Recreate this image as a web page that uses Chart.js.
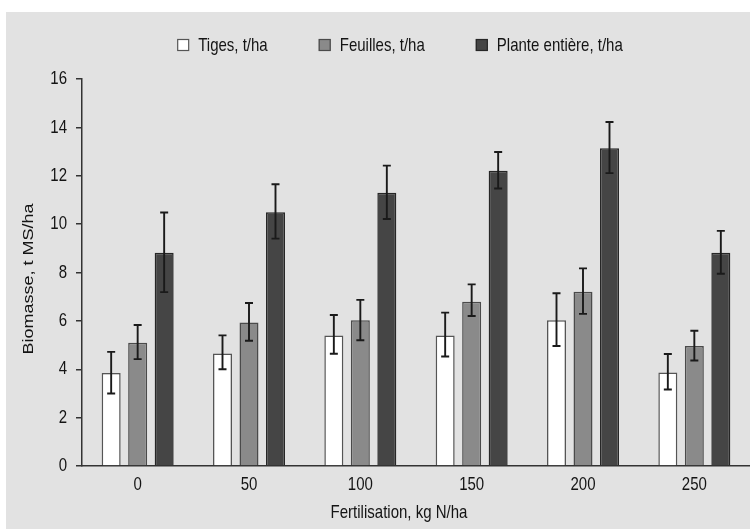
<!DOCTYPE html>
<html>
<head>
<meta charset="utf-8">
<script src="https://cdn.jsdelivr.net/npm/chart.js@4/dist/chart.umd.min.js"></script>
<style>
html,body{margin:0;padding:0;background:#fff;}
#wrap{position:relative;width:750px;height:529px;}
canvas{display:block;}
</style>
</head>
<body>
<div id="wrap"><canvas id="c" width="750" height="529"></canvas></div>
<script>
// ---- data ----
const categories = ['0', '50', '100', '150', '200', '250'];
const seriesNames = ['Tiges, t/ha', 'Feuilles, t/ha', 'Plante entière, t/ha'];
const tiges       = [3.85, 4.65, 5.40, 5.40, 6.03, 3.87];
const tigesLow    = [3.00, 4.00, 4.64, 4.53, 4.96, 3.16];
const tigesHigh   = [4.72, 5.40, 6.24, 6.34, 7.14, 4.63];
const feuilles     = [5.10, 5.93, 6.03, 6.79, 7.20, 4.96];
const feuillesLow  = [4.42, 5.18, 5.20, 6.20, 6.29, 4.36];
const feuillesHigh = [5.83, 6.74, 6.87, 7.51, 8.17, 5.59];
const plante     = [8.82, 10.49, 11.30, 12.21, 13.14, 8.82];
const planteLow  = [7.19, 9.40, 10.21, 11.47, 12.11, 7.95];
const planteHigh = [10.48, 11.65, 12.42, 12.98, 14.22, 9.72];
const yTicks = [0, 2, 4, 6, 8, 10, 12, 14, 16];
const xTitle = 'Fertilisation, kg N/ha';
const yTitle = 'Biomasse, t MS/ha';

const FONT = "'Liberation Sans', Arial, sans-serif";
const FS = 19;
const SX = 0.79; // horizontally narrowed text, as in the reference
const TEXT = '#141414';
const fills = ['#ffffff', '#8a8a8a', '#454545'];
const borders = ['#555555', '#4a4a4a', '#262626'];
const errors = [[tigesLow, tigesHigh], [feuillesLow, feuillesHigh], [planteLow, planteHigh]];

const canvas = document.getElementById('c');
const c2d = canvas.getContext('2d');
const origFillText = c2d.fillText;
c2d.fillText = function (t, x, y, mw) {
  this.save();
  this.translate(x, y);
  this.scale(SX, 1);
  if (mw === undefined) origFillText.call(this, t, 0, 0);
  else origFillText.call(this, t, 0, 0, mw / SX);
  this.restore();
};

const bgPlugin = {
  id: 'bg',
  beforeDraw(chart) {
    const ctx = chart.ctx;
    ctx.save();
    ctx.fillStyle = '#ffffff';
    ctx.fillRect(0, 0, chart.width, chart.height);
    ctx.fillStyle = '#e2e2e2';
    ctx.fillRect(6, 12, chart.width - 6, chart.height - 12);
    ctx.restore();
  }
};

const errPlugin = {
  id: 'errbars',
  afterDatasetsDraw(chart) {
    const ctx = chart.ctx;
    const ys = chart.scales.y;
    ctx.save();
    ctx.strokeStyle = '#1a1a1a';
    ctx.lineWidth = 1.9;
    chart.data.datasets.forEach((ds, i) => {
      const meta = chart.getDatasetMeta(i);
      const [lo, hi] = errors[i];
      meta.data.forEach((bar, j) => {
        const x = bar.x;
        const yl = ys.getPixelForValue(lo[j]);
        const yh = ys.getPixelForValue(hi[j]);
        ctx.beginPath();
        ctx.moveTo(x, yl); ctx.lineTo(x, yh);
        ctx.moveTo(x - 4, yl); ctx.lineTo(x + 4, yl);
        ctx.moveTo(x - 4, yh); ctx.lineTo(x + 4, yh);
        ctx.stroke();
      });
    });
    ctx.restore();
  }
};

const annoPlugin = {
  id: 'anno',
  afterDraw(chart) {
    const ctx = chart.ctx;
    ctx.save();
    // legend
    ctx.font = FS + 'px ' + FONT;
    ctx.fillStyle = TEXT;
    ctx.textBaseline = 'middle';
    ctx.textAlign = 'left';
    const box = 12, gapText = 9, gapItem = 51, cy = 45;
    const widths = seriesNames.map(s => box + gapText + ctx.measureText(s).width * SX);
    const total = widths.reduce((a, b) => a + b, 0) + gapItem * (widths.length - 1);
    let x = 400 - total / 2;
    seriesNames.forEach((s, i) => {
      ctx.fillStyle = fills[i];
      ctx.fillRect(x, cy - box / 2, box, box);
      ctx.strokeStyle = borders[i];
      ctx.lineWidth = 1.2;
      ctx.strokeRect(x + 0.5, cy - box / 2 + 0.5, box - 1, box - 1);
      ctx.fillStyle = TEXT;
      ctx.fillText(s, x + box + gapText, cy + 1);
      x += widths[i] + gapItem;
    });
    // axis titles
    ctx.textAlign = 'center';
    ctx.fillText(xTitle, 399, 513);
    ctx.font = '18px ' + FONT;
    ctx.translate(29, 279);
    ctx.scale(0.83, 1);
    ctx.rotate(-Math.PI / 2);
    origFillText.call(ctx, yTitle, 0, 0);
    ctx.restore();
  }
};

const datasets = [tiges, feuilles, plante].map((d, i) => ({
  label: seriesNames[i],
  data: d,
  backgroundColor: fills[i],
  borderColor: borders[i],
  borderWidth: 1.5,
  categoryPercentage: 0.714,
  barPercentage: 0.717
}));

new Chart(canvas, {
  type: 'bar',
  data: { labels: categories, datasets },
  plugins: [bgPlugin, errPlugin, annoPlugin],
  options: {
    responsive: false,
    animation: false,
    devicePixelRatio: 1,
    layout: { padding: { top: 79, left: 0, right: 0, bottom: 0 } },
    plugins: { legend: { display: false }, tooltip: { enabled: false } },
    scales: {
      x: {
        grid: { display: false, drawTicks: false },
        border: { display: true, color: '#333333', width: 1.5 },
        ticks: { color: TEXT, font: { family: FONT, size: FS }, padding: 7 },
        afterFit(s) { s.height = 63; }
      },
      y: {
        min: 0, max: 16,
        afterBuildTicks(s) { s.ticks = yTicks.map(v => ({ value: v })); },
        grid: { display: true, drawOnChartArea: false, drawTicks: true, tickLength: 6, color: '#333333', lineWidth: 1.5 },
        border: { display: true, color: '#333333', width: 1.5 },
        ticks: { color: TEXT, font: { family: FONT, size: FS }, padding: 9 },
        afterFit(s) { s.width = 82; }
      }
    }
  }
});
</script>
</body>
</html>
